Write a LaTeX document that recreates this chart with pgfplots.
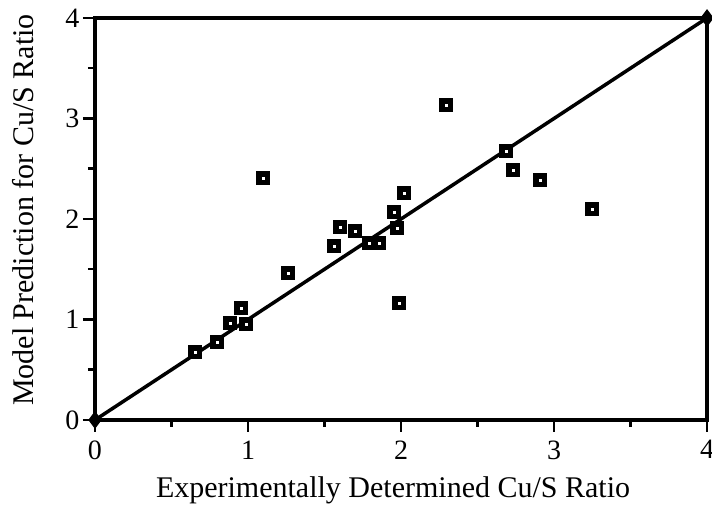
\documentclass[border=0pt]{standalone}
\usepackage{fontspec}
\setmainfont{Liberation Serif}
\usepackage{pgfplots}
\pgfplotsset{compat=1.18}

\begin{document}
\begin{tikzpicture}
\begin{axis}[
  name=ax,
  scale only axis, width=612pt, height=402pt,
  xmin=0, xmax=4, ymin=0, ymax=4,
  xtick={0,1,2,3,4}, ytick={0,1,2,3,4},
  minor xtick={0.5,1.5,2.5,3.5}, minor ytick={0.5,1.5,2.5,3.5},
  xtick pos=bottom, ytick pos=left,
  tick align=outside,
  major tick length=12pt, minor tick length=7pt,
  axis line style={line width=3.5pt},
  every tick/.style={line width=2.5pt, black},
  /pgf/number format/assume math mode=true,
  tick label style={font=\fontsize{28}{28}\selectfont},
  xticklabel style={yshift=-5pt},
  xlabel={Experimentally Determined Cu/S Ratio},
  ylabel={Model Prediction for Cu/S Ratio},
  label style={font=\fontsize{30}{30}\selectfont},
  xlabel style={at={(axis description cs:0.487,-0.194)}, anchor=base},
  ylabel style={at={(axis description cs:-0.101,0.522)}, anchor=base},
  clip=false]
  \addplot[black, line width=3.5pt, mark=diamond*, mark size=6pt] coordinates {(0,0) (4,4)};
  \addplot[only marks, mark=square*, mark size=6.5pt, mark options={fill=black, draw=black}] coordinates {
    (0.654,0.677) (0.797,0.776) (0.882,0.965) (0.987,0.955) (0.954,1.114)
    (1.098,2.408) (1.261,1.463) (1.562,1.731) (1.601,1.920) (1.699,1.881)
    (1.791,1.761) (1.856,1.761) (1.954,2.070) (1.974,1.910) (1.987,1.164)
    (2.020,2.259) (2.294,3.134) (2.686,2.677) (2.732,2.488) (2.908,2.388)
    (3.248,2.100)};
  \addplot[only marks, mark=square*, mark size=2pt, mark options={fill=white, draw=none}] coordinates {
    (0.654,0.677) (0.797,0.776) (0.882,0.965) (0.987,0.955) (0.954,1.114)
    (1.098,2.408) (1.261,1.463) (1.562,1.731) (1.601,1.920) (1.699,1.881)
    (1.791,1.761) (1.856,1.761) (1.954,2.070) (1.974,1.910) (1.987,1.164)
    (2.020,2.259) (2.294,3.134) (2.686,2.677) (2.732,2.488) (2.908,2.388)
    (3.248,2.100)};
\end{axis}
\pgfresetboundingbox
\path[use as bounding box] ([xshift=-95pt,yshift=-89pt]ax.south west) rectangle ([xshift=5pt,yshift=18pt]ax.north east);
\end{tikzpicture}
\end{document}
